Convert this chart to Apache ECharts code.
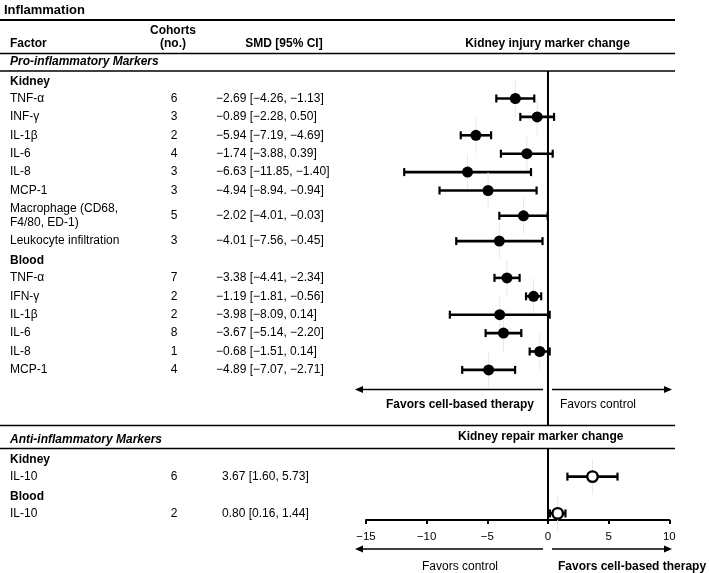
<!DOCTYPE html>
<html>
<head>
<meta charset="utf-8">
<script src="https://cdn.jsdelivr.net/npm/echarts@6/dist/echarts.min.js"></script>
<style>
html,body{margin:0;padding:0;background:#fff;}
#chart{width:709px;height:573px;}
</style>
</head>
<body>
<div id="chart"></div>
<script>
// ---------------- DATA ----------------
const kidneyProFactors = ['TNF-α', 'INF-γ', 'IL-1β', 'IL-6', 'IL-8', 'MCP-1', 'Macrophage (CD68,\nF4/80, ED-1)', 'Leukocyte infiltration'];
const kidneyProCohorts = [6, 3, 2, 4, 3, 3, 5, 3];
const kidneyProSMD = [-2.69, -0.89, -5.94, -1.74, -6.63, -4.94, -2.02, -4.01];
const kidneyProLower = [-4.26, -2.28, -7.19, -3.88, -11.85, -8.94, -4.01, -7.56];
const kidneyProUpper = [-1.13, 0.50, -4.69, 0.39, -1.40, -0.94, -0.03, -0.45];
const kidneyProCI = ['−2.69 [−4.26, −1.13]', '−0.89 [−2.28, 0.50]', '−5.94 [−7.19, −4.69]', '−1.74 [−3.88, 0.39]', '−6.63 [−11.85, −1.40]', '−4.94 [−8.94. −0.94]', '−2.02 [−4.01, −0.03]', '−4.01 [−7.56, −0.45]'];

const bloodProFactors = ['TNF-α', 'IFN-γ', 'IL-1β', 'IL-6', 'IL-8', 'MCP-1'];
const bloodProCohorts = [7, 2, 2, 8, 1, 4];
const bloodProSMD = [-3.38, -1.19, -3.98, -3.67, -0.68, -4.89];
const bloodProLower = [-4.41, -1.81, -8.09, -5.14, -1.51, -7.07];
const bloodProUpper = [-2.34, -0.56, 0.14, -2.20, 0.14, -2.71];
const bloodProCI = ['−3.38 [−4.41, −2.34]', '−1.19 [−1.81, −0.56]', '−3.98 [−8.09, 0.14]', '−3.67 [−5.14, −2.20]', '−0.68 [−1.51, 0.14]', '−4.89 [−7.07, −2.71]'];

const kidneyAntiFactors = ['IL-10'];
const kidneyAntiCohorts = [6];
const kidneyAntiSMD = [3.67];
const kidneyAntiLower = [1.60];
const kidneyAntiUpper = [5.73];
const kidneyAntiCI = ['3.67 [1.60, 5.73]'];

const bloodAntiFactors = ['IL-10'];
const bloodAntiCohorts = [2];
const bloodAntiSMD = [0.80];
const bloodAntiLower = [0.16];
const bloodAntiUpper = [1.44];
const bloodAntiCI = ['0.80 [0.16, 1.44]'];

const xTicksMin = -15, xTicksMax = 10, xTickStep = 5;

// ---------------- LAYOUT ----------------
const FONT = '"Liberation Sans", Arial, Helvetica, sans-serif';
const ROW = 18.4, BASE = 98.5;          // row height and y of first data row (px)
const px = u => BASE + u * ROW;
const toU = p => (p - BASE) / ROW;
const AXIS_Y = 520;
const COL_FACTOR = 10, COL_COHORT = 174;

const tableRows = [];
const filledPts = [], openPts = [], bars = [];

function addGroup(name, factors, cohorts, smd, lo, hi, ci, start, filled, ciX) {
  tableRows.push({kind: 'group', text: name, u: start + 0.5});
  start += 1;
  for (let i = 0; i < factors.length; i++) {
    const h = factors[i].indexOf('\n') >= 0 ? 1.75 : 1;
    const c = start + h / 2;
    tableRows.push({kind: 'factor', text: factors[i], cohort: String(cohorts[i]), ci: ci[i], ciX: ciX, u: c});
    (filled ? filledPts : openPts).push([smd[i], c]);
    bars.push([smd[i], lo[i], hi[i], c]);
    start += h;
  }
  return start;
}
let cur = -1.5;
cur = addGroup('Kidney', kidneyProFactors, kidneyProCohorts, kidneyProSMD, kidneyProLower, kidneyProUpper, kidneyProCI, cur, true, 216);
cur = addGroup('Blood', bloodProFactors, bloodProCohorts, bloodProSMD, bloodProLower, bloodProUpper, bloodProCI, cur, true, 216);
cur += 3.8;
cur = addGroup('Kidney', kidneyAntiFactors, kidneyAntiCohorts, kidneyAntiSMD, kidneyAntiLower, kidneyAntiUpper, kidneyAntiCI, cur, false, 222);
cur = addGroup('Blood', bloodAntiFactors, bloodAntiCohorts, bloodAntiSMD, bloodAntiLower, bloodAntiUpper, bloodAntiCI, cur, false, 222);

// ---------------- GRAPHICS (table) ----------------
const g = [];
function txt(text, x, y, opts) {
  opts = opts || {};
  g.push({
    type: 'text', silent: true,
    style: {
      text: text, x: x, y: y, fill: '#000',
      font: (opts.style || '') + ' ' + (opts.weight || 'normal') + ' ' + (opts.size || 12) + 'px ' + FONT,
      align: opts.align || 'left', verticalAlign: 'middle',
      lineHeight: opts.lh || 14
    }
  });
}
function hline(y, w) {
  g.push({type: 'line', silent: true, shape: {x1: 0, y1: y, x2: 675, y2: y}, style: {stroke: '#000', lineWidth: w || 1.5}});
}
function arrow(xFrom, xTip, y) {
  const dir = xTip > xFrom ? 1 : -1;
  g.push({type: 'line', silent: true, shape: {x1: xFrom, y1: y, x2: xTip - dir * 6, y2: y}, style: {stroke: '#000', lineWidth: 1.7}});
  g.push({type: 'polygon', silent: true, shape: {points: [[xTip, y], [xTip - dir * 8, y - 3.5], [xTip - dir * 8, y + 3.5]]}, style: {fill: '#000'}});
}

txt('Inflammation', 4, 10, {weight: 'bold', size: 13});
hline(20, 2);
txt('Cohorts', COL_COHORT - 1, 31, {weight: 'bold', align: 'center'});
txt('(no.)', COL_COHORT - 1, 44, {weight: 'bold', align: 'center'});
txt('Factor', COL_FACTOR, 44, {weight: 'bold'});
txt('SMD [95% CI]', 284, 44, {weight: 'bold', align: 'center'});
txt('Kidney injury marker change', 547.5, 44, {weight: 'bold', align: 'center'});
hline(53.5);
txt('Pro-inflammatory Markers', COL_FACTOR, 62, {weight: 'bold', style: 'italic'});
hline(71);

tableRows.forEach(r => {
  if (r.kind === 'group') {
    txt(r.text, COL_FACTOR, px(r.u) + 1.5, {weight: 'bold'});
  } else {
    txt(r.text, COL_FACTOR, px(r.u), {});
    txt(r.cohort, COL_COHORT, px(r.u), {align: 'center'});
    txt(r.ci, r.ciX, px(r.u), {});
  }
});

arrow(543, 355, 389.5);
arrow(552, 672, 389.5);
txt('Favors cell-based therapy', 460, 405, {weight: 'bold', align: 'center'});
txt('Favors control', 560, 405, {});
hline(425.5);
txt('Anti-inflammatory Markers', COL_FACTOR, 440, {weight: 'bold', style: 'italic'});
txt('Kidney repair marker change', 540.7, 437, {weight: 'bold', align: 'center'});
hline(448.5);

arrow(543, 355, 549);
arrow(552, 672, 549);
txt('Favors control', 460, 566.5, {align: 'center'});
txt('Favors cell-based therapy', 558, 566.5, {weight: 'bold'});

// ---------------- CHART ----------------
const chart = echarts.init(document.getElementById('chart'), null, {renderer: 'canvas'});
const option = {
  animation: false,
  backgroundColor: '#fff',
  grid: {left: 366, width: 303.3, top: 0, height: AXIS_Y},
  xAxis: {
    type: 'value', min: xTicksMin, max: xTicksMax, interval: xTickStep,
    axisLine: {show: true, onZero: false, lineStyle: {color: '#000', width: 2}},
    axisTick: {show: true, length: 4, lineStyle: {color: '#000', width: 2}},
    splitLine: {show: false},
    axisLabel: {
      color: '#000', fontSize: 11.5, fontFamily: FONT, margin: 11,
      formatter: v => (v < 0 ? '−' + Math.abs(v) : String(v))
    }
  },
  yAxis: {
    type: 'value', inverse: true, min: toU(0), max: toU(AXIS_Y), show: false,
    splitLine: {show: false}
  },
  graphic: g,
  series: [
    {
      type: 'line', data: [[0, toU(71)], [0, toU(425.5)]], symbol: 'none',
      lineStyle: {color: '#000', width: 2}, silent: true, z: 3
    },
    {
      type: 'line', data: [[0, toU(448.5)], [0, toU(AXIS_Y)]], symbol: 'none',
      lineStyle: {color: '#000', width: 2}, silent: true, z: 3
    },
    {
      type: 'custom', z: 4, silent: true,
      data: bars,
      encode: {x: [0, 1, 2], y: 3},
      renderItem: function (params, api) {
        const y = api.value(3);
        const pt = api.coord([api.value(0), y]);
        const lo = api.coord([api.value(1), y]);
        const hi = api.coord([api.value(2), y]);
        return {
          type: 'group',
          children: [
            {type: 'line', shape: {x1: pt[0], y1: pt[1] - 18, x2: pt[0], y2: pt[1] + 18}, style: {stroke: '#e9e9e9', lineWidth: 1}},
            {type: 'line', shape: {x1: lo[0], y1: lo[1], x2: hi[0], y2: hi[1]}, style: {stroke: '#000', lineWidth: 2.6}},
            {type: 'line', shape: {x1: lo[0], y1: lo[1] - 4, x2: lo[0], y2: lo[1] + 4}, style: {stroke: '#000', lineWidth: 2.2}},
            {type: 'line', shape: {x1: hi[0], y1: hi[1] - 4, x2: hi[0], y2: hi[1] + 4}, style: {stroke: '#000', lineWidth: 2.2}}
          ]
        };
      }
    },
    {
      type: 'scatter', z: 5, silent: true, data: filledPts, symbol: 'circle', symbolSize: 11,
      itemStyle: {color: '#000', opacity: 1}
    },
    {
      type: 'scatter', z: 5, silent: true, data: openPts, symbol: 'circle', symbolSize: 10.5,
      itemStyle: {color: '#fff', borderColor: '#000', borderWidth: 2.4, opacity: 1}
    }
  ]
};
chart.setOption(option);
</script>
</body>
</html>
